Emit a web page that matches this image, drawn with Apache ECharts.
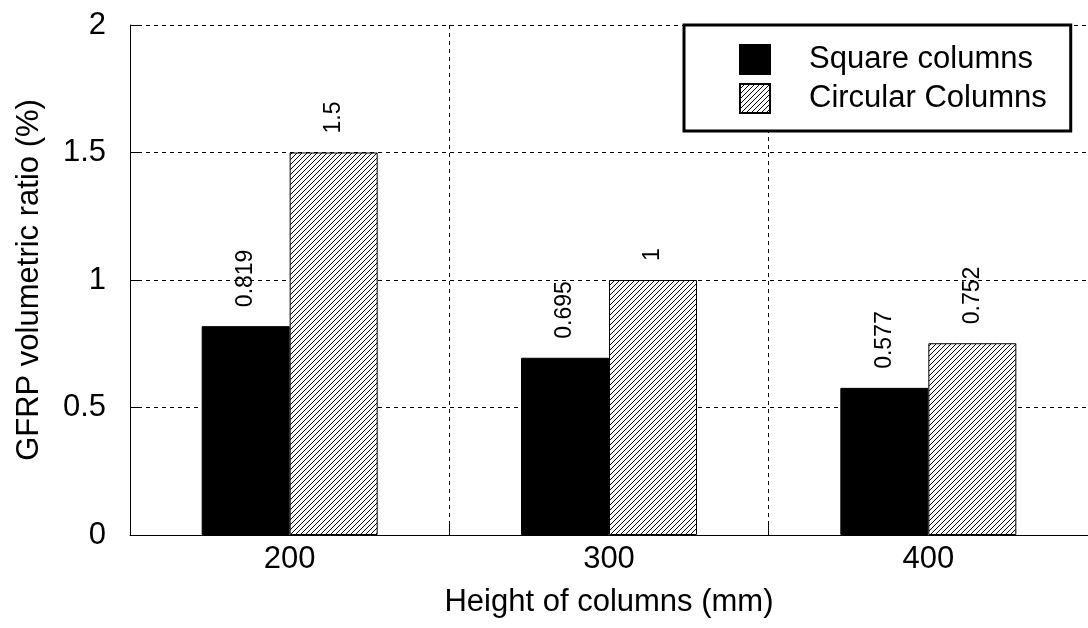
<!DOCTYPE html>
<html>
<head>
<meta charset="utf-8">
<script src="https://cdn.jsdelivr.net/npm/echarts@6/dist/echarts.min.js"></script>
<style>html,body{margin:0;padding:0;background:#fff;}#c{width:1088px;height:628px;}</style>
</head>
<body>
<div id="c"></div>
<script>
const categories = ['200', '300', '400'];
const squareValues = [0.819, 0.695, 0.577];
const circularValues = [1.5, 1, 0.752];
const seriesNames = ['Square columns', 'Circular Columns'];
const xAxisName = 'Height of columns (mm)';
const yAxisName = 'GFRP volumetric ratio (%)';

function makeHatch() {
  const s = 5;
  const cv = document.createElement('canvas');
  cv.width = s; cv.height = s;
  const ctx = cv.getContext('2d');
  ctx.fillStyle = '#fff';
  ctx.fillRect(0, 0, s, s);
  ctx.strokeStyle = '#000';
  ctx.lineWidth = 1;
  for (let k = -1; k <= 1; k++) {
    ctx.beginPath();
    ctx.moveTo(k * s, s);
    ctx.lineTo(k * s + s, 0);
    ctx.stroke();
  }
  return cv;
}
const hatch = { image: makeHatch(), repeat: 'repeat' };
const FONT = 'Liberation Sans, Arial, sans-serif';

const chart = echarts.init(document.getElementById('c'), null, { renderer: 'canvas' });
const labelCfg = {
  show: true, position: 'top', distance: 19, rotate: 90,
  align: 'left', verticalAlign: 'middle',
  fontSize: 23, color: '#000', fontFamily: FONT
};
chart.setOption({
  backgroundColor: '#fff',
  animation: false,
  textStyle: { fontFamily: FONT },
  grid: { left: 130, top: 25, width: 960, height: 510, containLabel: false },
  legend: {
    left: 684, top: 25, orient: 'vertical',
    backgroundColor: '#fff', borderColor: '#000', borderWidth: 3, borderRadius: 0,
    padding: [19, 24, 17, 55],
    itemWidth: 30, itemHeight: 29, itemGap: 8,
    icon: 'rect',
    textStyle: { fontSize: 31, color: '#000', fontFamily: FONT, padding: [0, 0, 0, 34] },
    data: seriesNames
  },
  xAxis: {
    type: 'category', data: categories,
    name: xAxisName, nameLocation: 'middle', nameGap: 52,
    nameTextStyle: { fontSize: 31, color: '#000', fontFamily: FONT },
    axisLine: { lineStyle: { color: '#000', width: 1 } },
    axisTick: { show: true, inside: true, length: 12, lineStyle: { color: '#000' } },
    axisLabel: { fontSize: 31, color: '#000', margin: 9, fontFamily: FONT },
    splitLine: { show: true, interval: 0, lineStyle: { color: '#000', type: [4, 4], width: 1 } }
  },
  yAxis: {
    type: 'value', min: 0, max: 2, interval: 0.5,
    name: yAxisName, nameLocation: 'middle', nameGap: 85,
    nameTextStyle: { fontSize: 31, color: '#000', fontFamily: FONT },
    axisLine: { show: true, lineStyle: { color: '#000', width: 1 } },
    axisTick: { show: true, inside: true, length: 12, lineStyle: { color: '#000' } },
    axisLabel: { fontSize: 31, color: '#000', margin: 24, fontFamily: FONT },
    splitLine: { show: true, lineStyle: { color: '#000', type: [4, 4], width: 1 } }
  },
  series: [
    {
      name: seriesNames[0], type: 'bar', data: squareValues,
      barWidth: 88, barGap: '0%',
      itemStyle: { color: '#000', borderColor: '#000', borderWidth: 1 },
      label: labelCfg
    },
    {
      name: seriesNames[1], type: 'bar', data: circularValues,
      barWidth: 88, barGap: '0%',
      itemStyle: { color: hatch, borderColor: '#000', borderWidth: 1 },
      label: labelCfg
    }
  ]
});
</script>
</body>
</html>
